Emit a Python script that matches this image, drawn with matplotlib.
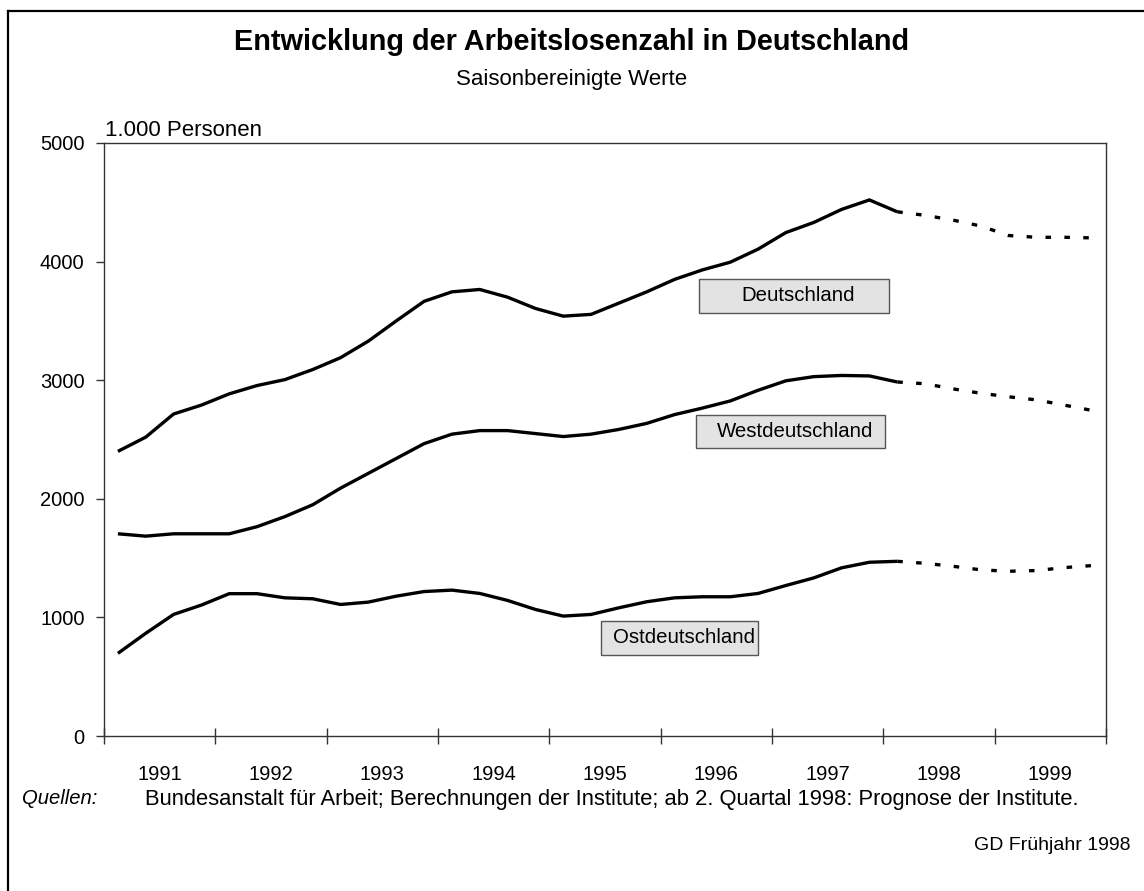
import matplotlib
matplotlib.use("Agg")
import matplotlib.pyplot as plt
from matplotlib.patches import Rectangle
import numpy as np

plt.rcParams['font.family'] = ['Liberation Sans', 'DejaVu Sans']

years = ['1991', '1992', '1993', '1994', '1995', '1996', '1997', '1998', '1999']

# Quarterly values (1.000 Personen), 1991Q1 .. 1998Q1 observed, 1998Q1 .. 1999Q4 forecast
deutschland_obs = [2400, 2520, 2715, 2790, 2885, 2955, 3005, 3090, 3190, 3330, 3500, 3665,
                   3745, 3765, 3700, 3605, 3540, 3555, 3650, 3745, 3850, 3930, 3995, 4105,
                   4245, 4330, 4440, 4520, 4420]
deutschland_fc = [4420, 4390, 4350, 4300, 4220, 4205, 4205, 4200]

west_obs = [1705, 1685, 1705, 1705, 1705, 1765, 1850, 1950, 2090, 2215, 2340, 2465,
            2545, 2575, 2575, 2550, 2525, 2545, 2585, 2636, 2710, 2765, 2825, 2915,
            2995, 3030, 3040, 3036, 2985]
west_fc = [2985, 2970, 2927, 2890, 2860, 2834, 2790, 2745]

ost_obs = [697, 866, 1025, 1104, 1200, 1200, 1165, 1157, 1109, 1129, 1179, 1218,
           1230, 1202, 1143, 1067, 1011, 1025, 1081, 1132, 1165, 1174, 1174, 1202,
           1269, 1333, 1418, 1465, 1473]
ost_fc = [1473, 1456, 1431, 1401, 1389, 1395, 1420, 1437]

labels = ['Deutschland', 'Westdeutschland', 'Ostdeutschland']
# label boxes: (x0, x1, y0, y1) in data coordinates (quarters, 1.000 Personen)
label_boxes = [(21.38, 28.21, 3567, 3853), (21.27, 28.07, 2428, 2707), (17.86, 23.5, 683, 970)]

W, H = 1144, 891
fig = plt.figure(figsize=(W / 100, H / 100), dpi=100)
fig.patch.set_facecolor('white')

ax = fig.add_axes([104 / W, 1 - 736 / H, (1106 - 104) / W, (736 - 143) / H])

n_obs = len(deutschland_obs)
x_obs = np.arange(n_obs) + 0.5
x_fc = np.arange(n_obs - 1, n_obs - 1 + len(deutschland_fc)) + 0.5

LW = 2.4
for obs, fc in [(deutschland_obs, deutschland_fc), (west_obs, west_fc), (ost_obs, ost_fc)]:
    ax.plot(x_obs, obs, color='black', lw=LW, solid_joinstyle='miter', solid_capstyle='butt', zorder=3)
    ln, = ax.plot(x_fc, fc, color='black', lw=LW, dash_capstyle='butt', zorder=3)
    ln.set_dashes((4.0 / LW, 9.6 / LW))

for txt, (x0, x1, y0, y1) in zip(labels, label_boxes):
    ax.add_patch(Rectangle((x0, y0), x1 - x0, y1 - y0, fc='#e3e3e3', ec='#555555', lw=1, zorder=2))
    ax.text((x0 + x1) / 2 + 0.15, (y0 + y1) / 2, txt, ha='center', va='center', fontsize=14.7,
            color='black', zorder=4)

ax.set_xlim(0, 36)
ax.set_ylim(0, 5000)
ax.set_yticks([0, 1000, 2000, 3000, 4000, 5000])
ax.set_xticks(np.arange(0, 37, 4))
ax.set_xticklabels([])
ax.set_xticks(np.arange(2, 36, 4), minor=True)
ax.set_xticklabels(years, minor=True)
ax.tick_params(axis='x', which='major', direction='inout', length=11, width=1, color='#333333')
ax.tick_params(axis='x', which='minor', length=0, pad=21, labelsize=14.5)
ax.tick_params(axis='y', direction='out', length=6, width=1, color='#333333', labelsize=14.5, pad=8)
for s in ax.spines.values():
    s.set_linewidth(1)
    s.set_color('#333333')

fig.text(0.5, 1 - 42 / H, 'Entwicklung der Arbeitslosenzahl in Deutschland',
         ha='center', va='center', fontsize=20.8, fontweight='bold')
fig.text(0.5, 1 - 80 / H, 'Saisonbereinigte Werte', ha='center', va='center', fontsize=16)
fig.text(105 / W, 1 - 130 / H, '1.000 Personen', ha='left', va='center', fontsize=16)
fig.text(22 / W, 1 - 799 / H, 'Quellen:', ha='left', va='center', fontsize=14.6, style='italic')
fig.text(145 / W, 1 - 799 / H,
         'Bundesanstalt für Arbeit; Berechnungen der Institute; ab 2. Quartal 1998: Prognose der Institute.',
         ha='left', va='center', fontsize=15.8)
fig.text(1131 / W, 1 - 845 / H, 'GD Frühjahr 1998', ha='right', va='center', fontsize=14)

# outer frame (left and top)
fig.add_artist(plt.Line2D([8 / W, 8 / W], [0, 1 - 11 / H], color='black', lw=1.6, transform=fig.transFigure))
fig.add_artist(plt.Line2D([8 / W, 1], [1 - 11 / H, 1 - 11 / H], color='black', lw=1.6, transform=fig.transFigure))

fig.savefig('out.png', dpi=100)
